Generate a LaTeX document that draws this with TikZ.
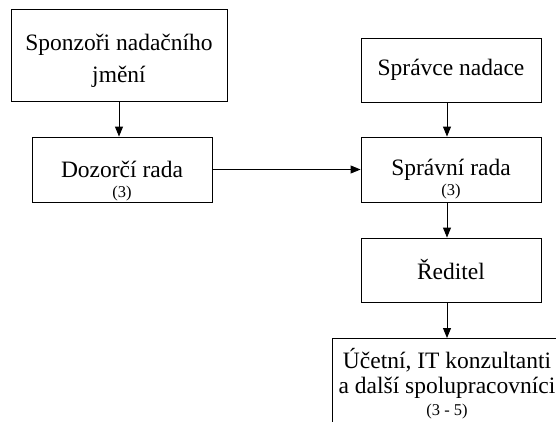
\documentclass[tikz,border=0pt]{standalone}
\usepackage{fontspec}
\setmainfont{Liberation Serif}
\usetikzlibrary{arrows.meta}

\tikzset{
  box/.style={draw, line width=0.9pt, align=center, inner sep=0pt,
    font=\fontsize{23.5}{32}\selectfont},
  pocet/.style={inner sep=0pt, font=\fontsize{16.5}{16.5}\selectfont},
  sipka/.style={line width=0.9pt, -{Triangle[length=10pt,width=8pt]}}
}

\begin{document}
\begin{tikzpicture}[x=1pt,y=-1pt]
\useasboundingbox (0,0) rectangle (556,421);
\clip (0,0) rectangle (556,421);

% left column
\node[box, minimum width=216, minimum height=92, text height=59pt] (sponzori) at (119,55) {Sponzoři nadačního\\jmění};
\node[box, minimum width=180, minimum height=65] (dozorci) at (122,169.5) {Dozorčí rada};
\node[pocet, anchor=base] (dozorcipocet) at ([yshift=-20pt]dozorci.base) {(3)};

% right column
\node[box, minimum width=180, minimum height=64] (spravce) at (451,70) {Správce nadace};
\node[box, minimum width=180, minimum height=65] (spravni) at (451,169.5) {Správní rada};
\node[pocet, anchor=base] (spravnipocet) at ([yshift=-20pt]spravni.base) {(3)};
\node[box, minimum width=180, minimum height=64] (reditel) at (451,270) {Ředitel};
\node[box, minimum width=230, minimum height=100, anchor=north] (ucetni) at (447,338) {};
\node[align=center, inner sep=0pt, anchor=north, font=\fontsize{23.5}{25}\selectfont] (ucetnitext) at ([yshift=-10pt]ucetni.north) {Účetní, IT konzultanti\\a další spolupracovníci};
\node[pocet, anchor=north] (ucetnipocet) at ([yshift=-5pt]ucetnitext.south) {(3 - 5)};

% links
\draw[sipka] (sponzori.south) -- (sponzori.south |- dozorci.north);
\draw[sipka] (dozorci.east) -- (dozorci.east -| spravni.west);
\draw[sipka] (spravce.south -| ucetni.north) -- (spravni.north -| ucetni.north);
\draw[sipka] (spravni.south -| ucetni.north) -- (reditel.north -| ucetni.north);
\draw[sipka] (reditel.south -| ucetni.north) -- (ucetni.north);
\end{tikzpicture}
\end{document}
